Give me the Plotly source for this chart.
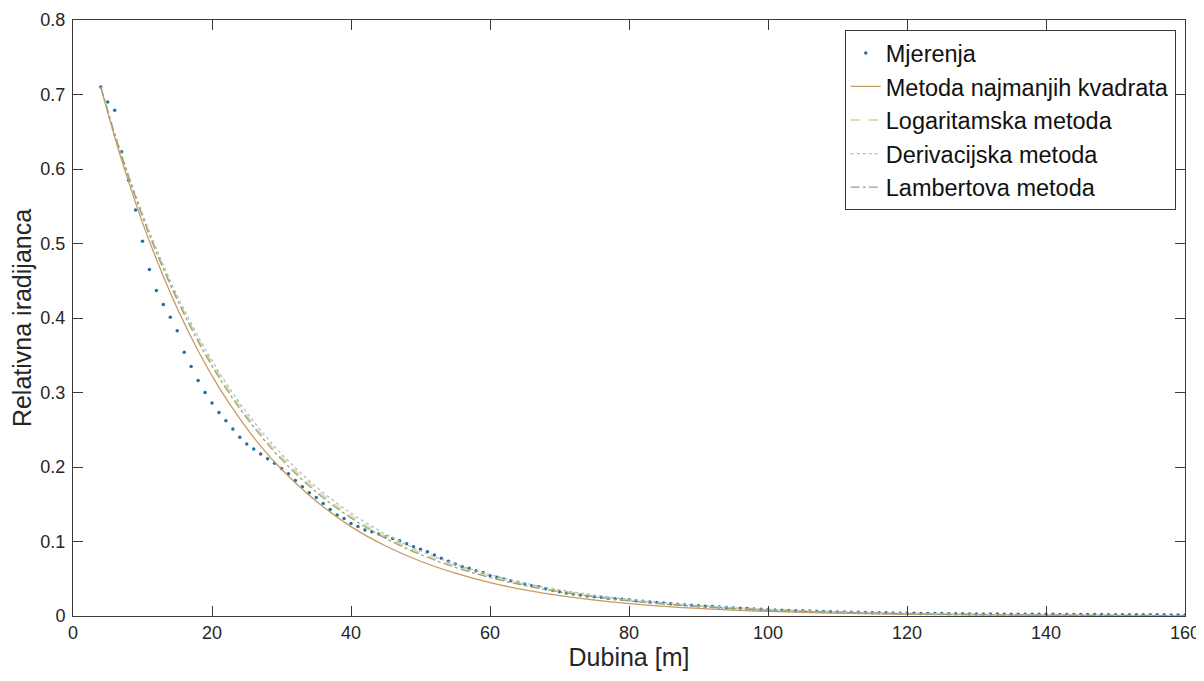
import plotly.graph_objects as go

# Measurements: depth [m] 4..160 step 1
depth = list(range(4, 161))
measured = [
    0.710, 0.690, 0.679, 0.623, 0.585, 0.545, 0.503, 0.465, 0.437, 0.418,   # 4-13
    0.401, 0.383, 0.354, 0.335, 0.316, 0.300, 0.286, 0.273, 0.262, 0.251,   # 14-23
    0.240, 0.231, 0.224, 0.2175, 0.211, 0.205, 0.198, 0.191, 0.182, 0.1736, # 24-33
    0.1655, 0.159, 0.151, 0.143, 0.1356, 0.131, 0.124, 0.120, 0.1154, 0.113, # 34-43
    0.110, 0.1065, 0.104, 0.101, 0.097, 0.093, 0.0895, 0.0863, 0.0819, 0.0775, # 44-53
    0.0734, 0.0698, 0.0662, 0.064, 0.0609, 0.0583, 0.0545, 0.0519, 0.0497, 0.0474, # 54-63
    0.0452, 0.043, 0.0407, 0.0393, 0.0366, 0.0345, 0.0326, 0.031, 0.0295, 0.0282, # 64-73
    0.0268, 0.0259, 0.0251, 0.0238, 0.0233, 0.0225, 0.0218, 0.0205, 0.0197, 0.0189, # 74-83
    0.0181, 0.0173, 0.0165, 0.0158, 0.0151, 0.0144, 0.0138, 0.0132, 0.0126, 0.0120, # 84-93
    0.0114, 0.0109, 0.0104, 0.0099, 0.0094, 0.0090, 0.0086, 0.0082, 0.0078, 0.0075, # 94-103
    0.0072, 0.0069, 0.0066, 0.0063, 0.0060, 0.0058, 0.0055, 0.0053, 0.0051, 0.0049, # 104-113
    0.0047, 0.0045, 0.0043, 0.0042, 0.0040, 0.0038, 0.0037, 0.0036, 0.0035, 0.0034, # 114-123
    0.0033, 0.0032, 0.0031, 0.0030, 0.0029, 0.0028, 0.0028, 0.0027, 0.0026, 0.0026, # 124-133
    0.0025, 0.0025, 0.0024, 0.0024, 0.0023, 0.0023, 0.0022, 0.0022, 0.0021, 0.0021, # 134-143
    0.0020, 0.0020, 0.0019, 0.0019, 0.0019, 0.0018, 0.0018, 0.0018, 0.0017, 0.0017, # 144-153
    0.0017, 0.0016, 0.0016, 0.0016, 0.0015, 0.0015, 0.0015,                         # 154-160
]

# Fitted curves sampled at these depths
fit_depth = [4, 6, 8, 10, 12, 15, 18, 21, 24, 27, 30, 35, 40, 45, 50, 55, 60, 65, 70,
             80, 90, 100, 110, 120, 130, 140, 150, 160]
least_squares = [0.710, 0.643, 0.583, 0.528, 0.479, 0.413, 0.356, 0.307, 0.265, 0.228,
                 0.197, 0.154, 0.120, 0.094, 0.0735, 0.0575, 0.0449, 0.0351, 0.0274,
                 0.0167, 0.0102, 0.0062, 0.0038, 0.0023, 0.0014, 0.00087, 0.00053, 0.00032]
logarithmic = [0.710, 0.647, 0.590, 0.538, 0.491, 0.427, 0.372, 0.324, 0.282, 0.245,
               0.2136, 0.1696, 0.1346, 0.1068, 0.0848, 0.0673, 0.0534, 0.0424, 0.0336,
               0.0212, 0.01336, 0.00842, 0.0053, 0.00334, 0.0021, 0.00133, 0.00084, 0.00053]
derivative = [0.710, 0.648, 0.592, 0.540, 0.493, 0.430, 0.3755, 0.3276, 0.2858, 0.2493,
              0.2175, 0.1733, 0.138, 0.110, 0.0875, 0.0697, 0.0555, 0.0442, 0.0352,
              0.0224, 0.0142, 0.0090, 0.0057, 0.0036, 0.0023, 0.00146, 0.00093, 0.00059]
lambert = [0.710, 0.6466, 0.589, 0.536, 0.488, 0.4243, 0.3687, 0.3204, 0.2785, 0.242,
           0.2103, 0.1664, 0.1317, 0.1042, 0.0825, 0.0653, 0.0516, 0.0409, 0.0324,
           0.0203, 0.0127, 0.0079, 0.0050, 0.0031, 0.00195, 0.00122, 0.00076, 0.00048]

x_ticks = [0, 20, 40, 60, 80, 100, 120, 140, 160]
y_ticks = [0, 0.1, 0.2, 0.3, 0.4, 0.5, 0.6, 0.7, 0.8]
y_tick_labels = ["0", "0.1", "0.2", "0.3", "0.4", "0.5", "0.6", "0.7", "0.8"]

fig = go.Figure()
fig.add_trace(go.Scatter(x=depth, y=measured, mode="markers", name="Mjerenja",
                         marker=dict(size=3.5, color="#23709f")))
fig.add_trace(go.Scatter(x=fit_depth, y=least_squares, mode="lines",
                         name="Metoda najmanjih kvadrata", line_shape="spline",
                         line=dict(color="#c89a62", width=1.3, dash="solid")))
fig.add_trace(go.Scatter(x=fit_depth, y=logarithmic, mode="lines",
                         name="Logaritamska metoda", line_shape="spline",
                         line=dict(color="#d9d08a", width=1.3, dash="dash")))
fig.add_trace(go.Scatter(x=fit_depth, y=derivative, mode="lines",
                         name="Derivacijska metoda", line_shape="spline",
                         line=dict(color="#a9bfd0", width=1.3, dash="dot")))
fig.add_trace(go.Scatter(x=fit_depth, y=lambert, mode="lines",
                         name="Lambertova metoda", line_shape="spline",
                         line=dict(color="#9aa36e", width=1.3, dash="dashdot")))

axis_common = dict(showgrid=False, zeroline=False, showline=True, linecolor="#3a3a3a",
                   linewidth=1, mirror="ticks", ticks="inside", ticklen=10,
                   automargin=False,
                   tickcolor="#3a3a3a", tickfont=dict(family="Liberation Sans, Arial", size=18,
                                                      color="#262626"))

# page body has an 8px margin, so the figure is offset by 8px
fig.update_layout(
    width=1196, height=665,
    paper_bgcolor="white", plot_bgcolor="white",
    margin=dict(l=65, r=19, t=12, b=57),
    font=dict(family="Liberation Sans, Arial", color="#262626"),
    xaxis=dict(range=[0, 160], tickvals=x_ticks,
               title=dict(text="Dubina [m]", font=dict(size=25), standoff=4),
               **axis_common),
    yaxis=dict(range=[0, 0.8], tickvals=y_ticks, ticktext=y_tick_labels,
               ticklabelstandoff=3,
               title=dict(text="Relativna iradijanca", font=dict(size=25), standoff=3),
               **axis_common),
    legend=dict(x=0.9917, y=0.983, xanchor="right", yanchor="top",
                bgcolor="white", bordercolor="#3a3a3a", borderwidth=1,
                font=dict(size=23.5, color="#111111"), itemwidth=30,
                tracegroupgap=0),
    showlegend=True,
)

fig.write_html("out.html")
